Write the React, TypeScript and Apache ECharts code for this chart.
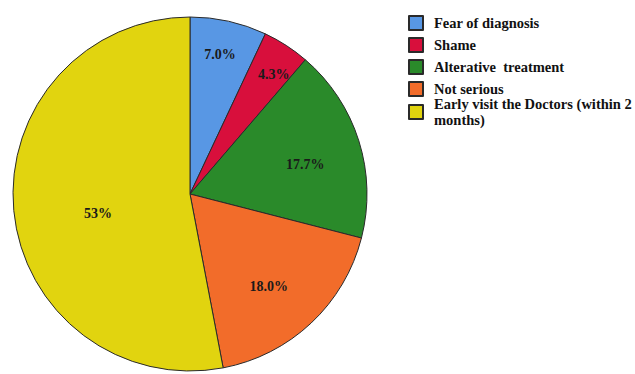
import React, { useEffect, useRef } from "react";
import * as echarts from "echarts";

// Reasons given, in drawing order (clockwise from 12 o'clock)
const categories = [
  "Fear of diagnosis",
  "Shame",
  "Alterative  treatment",
  "Not serious",
  "Early visit the Doctors (within 2\nmonths)",
];
const values = [7.0, 4.3, 17.7, 18.0, 53];
const valueLabels = ["7.0%", "4.3%", "17.7%", "18.0%", "53%"];
const colors = ["#5897e4", "#d80f3c", "#2a8a2a", "#f26c2a", "#e1d40f"];

// Nudges of each percentage label away from the default inner position
const labelOffsets: [number, number][] = [
  [10, -50],
  [34, -43],
  [28, -2],
  [16, 26],
  [-1, 11],
];

const serif = "'Liberation Serif', 'Times New Roman', serif";

const legendText = {
  fontFamily: serif,
  fontWeight: "bold",
  fontSize: 14.5,
  lineHeight: 16,
  color: "#111111",
  padding: [0, 0, 0, 6],
};

export default function App() {
  const ref = useRef<HTMLDivElement>(null);

  useEffect(() => {
    if (!ref.current) return;
    const chart = echarts.init(ref.current, undefined, { renderer: "svg" });

    const data = categories.map((name, i) => ({
      name,
      value: values[i],
      itemStyle: { color: colors[i] },
      label: { formatter: valueLabels[i], offset: labelOffsets[i] },
    }));

    const lastIdx = categories.length - 1;
    const legendBase = {
      orient: "vertical",
      left: 408,
      padding: 0,
      itemWidth: 14,
      itemHeight: 14,
      itemGap: 6,
      icon: "rect",
      selectedMode: false,
      textStyle: legendText,
    };

    chart.setOption({
      animation: false,
      backgroundColor: "#ffffff",
      legend: [
        {
          ...legendBase,
          top: 15,
          data: categories.slice(0, lastIdx),
        },
        {
          // two-line entry: first line sits level with its swatch
          ...legendBase,
          top: 88,
          data: [
            {
              name: categories[lastIdx],
              textStyle: { padding: [16, 0, 0, 6] },
            },
          ],
        },
      ],
      series: [
        {
          type: "pie",
          center: [190, 194],
          radius: 177,
          startAngle: 90,
          clockwise: true,
          avoidLabelOverlap: false,
          itemStyle: { borderColor: "#2a2a2a", borderWidth: 1 },
          label: {
            show: true,
            position: "inner",
            fontFamily: serif,
            fontWeight: "bold",
            fontSize: 14,
            color: "#1a1a1a",
          },
          labelLine: { show: false },
          emphasis: { disabled: true },
          data,
        },
      ],
    });

    return () => chart.dispose();
  }, []);

  return (
    <div
      ref={ref}
      style={{ position: "fixed", left: 0, top: 0, width: 635, height: 374 }}
    />
  );
}
